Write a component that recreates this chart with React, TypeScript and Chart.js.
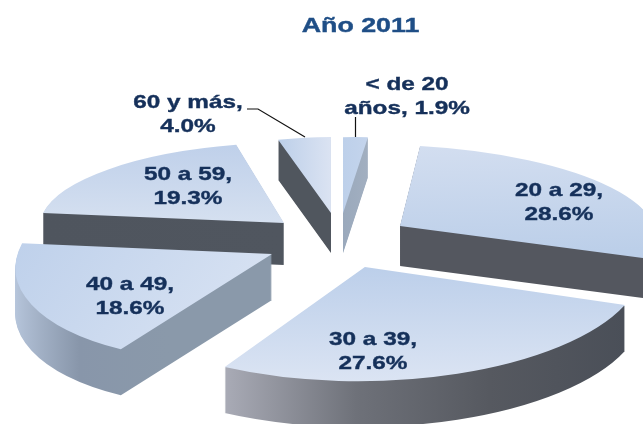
import React, { useEffect, useRef } from "react";
import { Chart, registerables } from "chart.js";

Chart.register(...registerables);

const categories = ["< de 20 años", "20 a 29", "30 a 39", "40 a 49", "50 a 59", "60 y más"];
const shares = [1.9, 28.6, 27.6, 18.6, 19.3, 4.0];
const labelLines = [
  ["< de 20", "años, 1.9%"],
  ["20 a 29,", "28.6%"],
  ["30 a 39,", "27.6%"],
  ["40 a 49,", "18.6%"],
  ["50 a 59,", "19.3%"],
  ["60 y más,", "4.0%"],
];
const titleText = "Año 2011";

// Style tables for the exploded 3D look (indexed like categories)
const explode = [109, 74.6, 81, 72.6, 69.4, 44];
const explodeSquash = [0.31, 0.536, 0.263, 0.21, 0.53, 0.78];
// per-slice affine view of the disc: a, b, c, d as in ctx.transform
const viewMatrix = [
  [0.79, -0.016, 0, 0.287],
  [0.96, 0.018, 0.039, 0.306],
  [1.05, -0.003, -0.02, 0.431],
  [0.961, -0.003, -0.117, 0.41],
  [0.92, 0.005, -0.05, 0.303],
  [0.802, -0.008, 0, 0.287],
];
const depth = [40, 40, 46, 46, 42, 40];
const paintOrder = [5, 0, 4, 1, 3, 2];
const labelAnchor = [[407, 85], [559, 191], [373, 340], [130, 285], [188, 175], [188, 103]];
const topDir = [[1, 0], [0.2, 1], [0, 1], [1, 0.2], [0, 1], [1, 0]];
const topStops = [
  ["#bdd0ea", "#c4d4ec"],
  ["#d3def0", "#bccfe9"],
  ["#bccfea", "#dbe4f3"],
  ["#bfd1eb", "#d6e1f2"],
  ["#bfd0ea", "#d5e0f0"],
  ["#bccfe9", "#dbe3f2"],
];
const wallStops = [
  ["#9aa9bc", "#a2afc0"],
  ["#54575f", "#54575f"],
  ["#a9abb6", "#6e7179", "#565960", "#4a4f58"],
  ["#b8c7dd", "#8896aa", "#8a99aa", "#8a99aa"],
  ["#4f555e", "#50565f"],
  ["#50565e", "#50565e"],
];

function wedgeBox(arc: any) {
  const xs = [arc.x];
  const ys = [arc.y];
  for (let i = 0; i <= 24; i++) {
    const a = arc.startAngle + ((arc.endAngle - arc.startAngle) * i) / 24;
    xs.push(arc.x + Math.cos(a) * arc.outerRadius);
    ys.push(arc.y + Math.sin(a) * arc.outerRadius);
  }
  return { x0: Math.min(...xs), x1: Math.max(...xs), y0: Math.min(...ys), y1: Math.max(...ys) };
}

function gradient(ctx: CanvasRenderingContext2D, box: any, dir: number[], stops: string[]) {
  const g = ctx.createLinearGradient(
    box.x0,
    box.y0,
    box.x0 + (box.x1 - box.x0) * dir[0],
    box.y0 + (box.y1 - box.y0) * dir[1]
  );
  stops.forEach((c, i) => g.addColorStop(i / (stops.length - 1), c));
  return g;
}

function stretchedText(ctx: CanvasRenderingContext2D, text: string, x: number, y: number, stretch: number) {
  ctx.save();
  ctx.translate(x, y);
  ctx.scale(stretch, 1);
  ctx.strokeText(text, 0, 0);
  ctx.fillText(text, 0, 0);
  ctx.restore();
}

const exploded3D = {
  id: "exploded3D",
  beforeDatasetsDraw(chart: any) {
    const ctx: CanvasRenderingContext2D = chart.ctx;
    const arcs = chart.getDatasetMeta(0).data;
    for (const i of paintOrder) {
      const arc = arcs[i];
      const original = arc.options;
      const mid = (arc.startAngle + arc.endAngle) / 2;
      const px = arc.x + Math.cos(mid) * original.offset;
      const py = arc.y + Math.sin(mid) * original.offset * explodeSquash[i];
      const box = wedgeBox(arc);
      const [a, b, c, d] = viewMatrix[i];
      const paint = (fill: any, drop: number) => {
        ctx.save();
        ctx.translate(px, py + drop);
        ctx.transform(a, b, c, d, 0, 0);
        ctx.translate(-arc.x, -arc.y);
        arc.options = Object.create(original, {
          offset: { value: 0 },
          borderWidth: { value: 0 },
          backgroundColor: { value: fill },
        });
        arc.draw(ctx);
        arc.options = original;
        ctx.restore();
      };
      const wall = gradient(ctx, box, [1, 0], wallStops[i]);
      for (let k = depth[i]; k >= 1; k--) paint(wall, k);
      paint(gradient(ctx, box, topDir[i], topStops[i]), 0);
    }
    return false;
  },
  afterDraw(chart: any) {
    const ctx: CanvasRenderingContext2D = chart.ctx;
    ctx.save();
    ctx.strokeStyle = "#111111";
    ctx.lineWidth = 1.2;
    ctx.beginPath();
    ctx.moveTo(247, 109);
    ctx.lineTo(258, 109);
    ctx.lineTo(305, 137);
    ctx.moveTo(355.5, 117);
    ctx.lineTo(355.5, 137);
    ctx.stroke();
    ctx.textAlign = "center";
    ctx.textBaseline = "middle";
    ctx.lineWidth = 0.4;
    ctx.font = 'bold 19px "Liberation Sans"';
    ctx.fillStyle = "#15305a";
    ctx.strokeStyle = "#15305a";
    labelLines.forEach((lines, i) => {
      lines.forEach((t, j) => stretchedText(ctx, t, labelAnchor[i][0], labelAnchor[i][1] + j * 23.5, 1.28));
    });
    ctx.font = 'bold 20px "Liberation Sans"';
    ctx.fillStyle = "#1f4e86";
    ctx.strokeStyle = "#1f4e86";
    stretchedText(ctx, titleText, 360.5, 26, 1.34);
    ctx.restore();
  },
};

export default function App() {
  const ref = useRef<HTMLCanvasElement>(null);
  useEffect(() => {
    const chart = new Chart(ref.current!, {
      type: "pie",
      data: {
        labels: categories,
        datasets: [{ data: shares, offset: explode, borderWidth: 0, backgroundColor: "#bdd0ea", radius: 265 } as any],
      },
      options: {
        responsive: false,
        animation: false,
        rotation: 0,
        layout: { padding: { left: 30, top: 70 } },
        plugins: { legend: { display: false }, tooltip: { enabled: false }, title: { display: false } },
      },
      plugins: [exploded3D as any],
    });
    return () => chart.destroy();
  }, []);
  return (
    <div style={{ position: "fixed", left: 0, top: 0, width: 643, height: 424, background: "#fff" }}>
      <canvas ref={ref} width={643} height={424} style={{ display: "block" }} />
    </div>
  );
}
